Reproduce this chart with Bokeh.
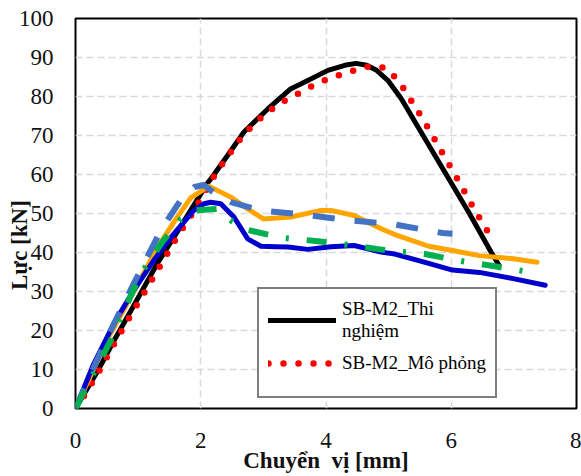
from bokeh.plotting import figure
from bokeh.models import Range1d, FixedTicker, Legend, LegendItem
from bokeh.core.properties import value
from bokeh.embed import file_html
from bokeh.resources import INLINE

# ---- data ----
tn_x = [0, 0.35, 0.6, 0.9, 1.3, 1.73, 2.1, 2.19, 2.45, 2.69, 3.07, 3.44, 3.71, 4.03, 4.3, 4.48,
        4.65, 4.8, 4.99, 5.2, 5.55, 5.92, 6.29, 6.64, 6.76]
tn_y = [0, 9.5, 17, 25.5, 37, 48, 57.6, 59.5, 65.4, 70.9, 76.8, 82, 84.1, 86.7, 88, 88.5,
        88, 86.8, 84.1, 79.5, 70, 60, 50, 40, 36.8]

mp_x = [0, 0.14, 0.4, 0.64, 0.89, 1.15, 1.40, 1.65, 1.79, 2.05, 2.19, 2.31, 2.45, 2.59, 2.75,
        2.93, 3.12, 3.33, 3.55, 3.77, 4.0, 4.23, 4.47, 4.71, 4.94, 5.14, 5.28, 5.40, 5.54,
        5.66, 5.79, 5.91, 6.04, 6.16, 6.28, 6.40, 6.53, 6.66]
mp_y = [0, 3.3, 10.2, 17.3, 24.1, 31.1, 37.9, 44.8, 48, 55, 59, 61.9, 65.1, 68.3, 71.3,
        74.1, 76.6, 78.8, 80.7, 82.6, 84.3, 85.6, 86.8, 87.8, 87.4, 84.4, 81.1, 77.9, 74.4,
        71.1, 67.5, 64.1, 60.5, 57.1, 53.6, 50.2, 46.8, 43.3]

or_x = [0, 0.5, 1.0, 1.31, 1.6, 1.84, 2.13, 2.48, 2.75, 3.0, 3.44, 3.92, 4.08, 4.45, 4.88,
        5.1, 5.64, 6.02, 6.45, 6.99, 7.37]
or_y = [0, 17.5, 32, 41.4, 48.5, 54, 57, 54.2, 51.2, 48.6, 49.1, 50.8, 50.8, 49.5, 46.1,
        44.6, 41.6, 40.5, 39.2, 38.4, 37.5]

db_x = [0, 0.29, 0.61, 0.93, 1.25, 1.57, 1.89, 2.05, 2.16, 2.32, 2.53, 2.75, 2.96, 3.2,
        3.39, 3.71, 4.08, 4.45, 4.88, 5.1, 5.64, 6.02, 6.45, 6.99, 7.5]
db_y = [0, 11.4, 21.7, 30.3, 38, 44.8, 50.8, 52.5, 52.9, 52.5, 49.1, 43.5, 41.6, 41.5,
        41.4, 40.8, 41.5, 41.8, 40.1, 39.6, 37.2, 35.5, 34.9, 33.3, 31.6]

lb_x = [0, 0.5, 0.93, 1.36, 1.71, 1.9, 2.05, 2.27, 2.48, 2.96, 3.65, 4.4, 5.1, 5.86, 6.02]
lb_y = [0, 18, 32, 45.6, 54.2, 56.8, 57.3, 54.6, 52.9, 50.8, 49.7, 48.2, 47.2, 45, 44.8]

gr_x = [0, 0.56, 1.04, 1.4, 1.68, 1.9, 2.27, 2.5, 2.75, 3.28, 3.87, 4.43, 4.99, 5.58,
        6.16, 6.72, 7.21]
gr_y = [0, 17.4, 34.5, 43, 48.6, 50.8, 51.2, 48, 45.8, 43.8, 42.9, 41.8, 40.5, 39.6,
        37.8, 36.4, 35.1]

x_ticks = [0, 2, 4, 6, 8]
y_ticks = [0, 10, 20, 30, 40, 50, 60, 70, 80, 90, 100]
label_tn = "SB-M2_Thi\nnghiệm"
label_mp = "SB-M2_Mô phỏng"
x_title = "Chuyển\u00a0 vị [mm]"
y_title = "Lực [kN]"

SERIF = "Liberation Serif"

p = figure(width=581, height=476, output_backend="svg", toolbar_location=None,
           x_range=Range1d(0, 8), y_range=Range1d(0, 100),
           min_border_left=75, min_border_right=5, min_border_top=18, min_border_bottom=68)
p.background_fill_color = "white"
p.border_fill_color = "white"
p.outline_line_color = "black"
p.outline_line_width = 2

for ax in (p.xaxis, p.yaxis):
    ax.axis_line_color = None
    ax.major_tick_line_color = None
    ax.minor_tick_line_color = None
    ax.major_tick_out = 0
    ax.major_tick_in = 0
    ax.major_label_text_font = SERIF
    ax.major_label_text_font_size = "23px"
    ax.major_label_text_color = "#111111"
    ax.axis_label_text_font = SERIF
    ax.axis_label_text_font_size = "23px"
    ax.axis_label_text_font_style = "bold"
    ax.axis_label_text_color = "#111111"

p.xaxis.ticker = FixedTicker(ticks=x_ticks)
p.yaxis.ticker = FixedTicker(ticks=y_ticks)
p.xaxis.major_label_standoff = 24
p.yaxis.major_label_standoff = 22
p.xaxis.axis_label = x_title
p.yaxis.axis_label = y_title + "\u00a0" * 11
p.xaxis.axis_label_standoff = -3
p.yaxis.axis_label_standoff = -16

for g in (p.xgrid, p.ygrid):
    g.grid_line_color = "#D9D9D9"
    g.grid_line_width = 1.5
    g.grid_line_dash = "7 4"

r_tn = p.line(tn_x, tn_y, line_color="black", line_width=5, line_join="round", line_cap="round")
r_mp = p.line(mp_x, mp_y, line_color="#FF0000", line_width=6.5, line_dash="0 15",
              line_cap="round", line_join="round")
p.line(or_x, or_y, line_color="#FFA500", line_width=5, line_join="round", line_cap="round")
p.line(db_x, db_y, line_color="#0000CC", line_width=5, line_join="round", line_cap="round")
p.line(lb_x, lb_y, line_color="#4472C4", line_width=6, line_dash="22 20", line_join="round")
p.line(gr_x, gr_y, line_color="#00B050", line_width=6, line_dash="20 18 3 18", line_join="round")

legend = Legend(items=[LegendItem(label=value(label_tn), renderers=[r_tn]),
                       LegendItem(label=value(label_mp), renderers=[r_mp])],
                location=(182, 10))
legend.border_line_color = "black"
legend.border_line_width = 2
legend.background_fill_color = "white"
legend.background_fill_alpha = 1
legend.glyph_width = 68
legend.label_standoff = 6
legend.padding = 9
legend.spacing = 10
legend.label_text_font = SERIF
legend.label_text_font_size = "19px"
legend.label_text_color = "black"
legend.title = "\u00a0"
legend.title_location = "below"
legend.title_text_font_size = "8px"
legend.title_standoff = 4
p.add_layout(legend)

open("out.html", "w").write(file_html(p, INLINE))
